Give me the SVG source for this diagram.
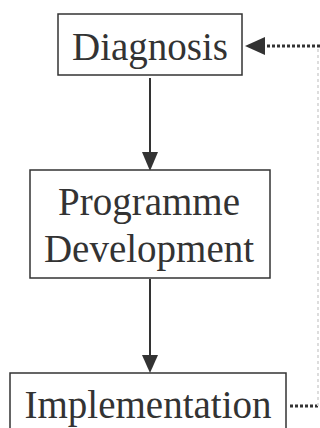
<svg xmlns="http://www.w3.org/2000/svg" width="320" height="428" viewBox="0 0 320 428">
<style>
.box{fill:#fff;stroke:#333;stroke-width:1.5}
.t{font-family:"Liberation Serif",serif;font-size:39px;fill:#333;text-anchor:middle}
.solid{stroke:#333;stroke-width:2;fill:none}
.dot{stroke:#333;stroke-width:3;stroke-dasharray:3 2;fill:none}
.faint{stroke:#ddd;stroke-width:2;stroke-dasharray:3 3;fill:none}
</style>
<rect width="320" height="428" fill="#fff"/>
<g id="connectors">
<line class="solid" x1="150" y1="78" x2="150" y2="155"/>
<path d="M142,152 L158,152 L150,171 z" fill="#333"/>
<line class="solid" x1="150" y1="279" x2="150" y2="357"/>
<path d="M142,355 L158,355 L150,373 z" fill="#333"/>
<line class="dot" x1="290" y1="406" x2="320" y2="406"/>
<line class="faint" x1="318" y1="406" x2="318" y2="46"/>
<line class="dot" x1="267" y1="46" x2="320" y2="46"/>
<path d="M265,37 L265,55 L245,46 z" fill="#333"/>
</g>
<g id="diagnosis">
<rect class="box" x="58" y="14" width="184" height="61"/>
<text class="t" x="150" y="60" font-size="39">Diagnosis</text>
</g>
<g id="programme">
<rect class="box" x="30" y="170" width="240" height="108"/>
<text class="t" x="149" y="215" font-size="39">Programme</text>
<text class="t" x="149" y="262" font-size="39">Development</text>
</g>
<g id="implementation">
<rect class="box" x="10" y="373" width="276" height="70"/>
<text class="t" x="148" y="418" font-size="39">Implementation</text>
</g>
</svg>
